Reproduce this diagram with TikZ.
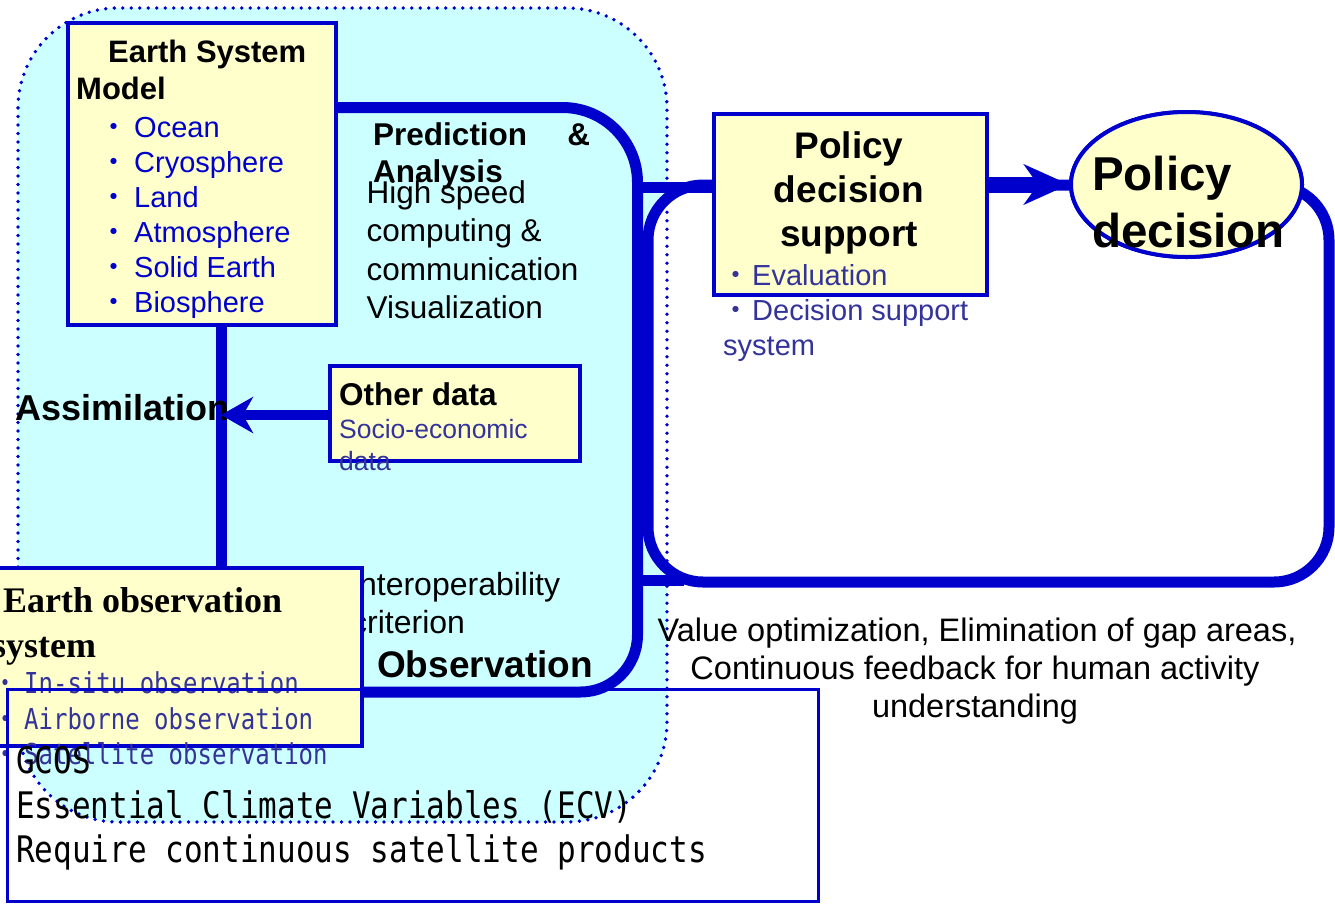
\documentclass[tikz,border=0pt]{standalone}
\usepackage{graphicx}
\usepackage{fontspec}
\setmainfont{Liberation Sans}
\newfontfamily\serifbf{Liberation Serif}
\newfontfamily\monofnt{DejaVu Sans Mono}
\newfontfamily\cjkfnt{Noto Sans CJK JP}
\usetikzlibrary{arrows.meta,shapes.geometric}
\definecolor{bl}{RGB}{0,0,204}
\definecolor{pb}{RGB}{51,51,153}
\definecolor{cy}{RGB}{204,255,255}
\definecolor{yl}{RGB}{255,255,204}
\newcommand{\myfs}[1]{\fontsize{#1}{#1}\selectfont}
\newcommand{\mybul}[1]{\makebox[#1][c]{\cjkfnt ・}}
\newcommand{\mymono}[2]{\scalebox{1}[#1]{#2}}
\begin{document}
\begin{tikzpicture}[x=1pt,y=-1pt,
  txt/.style={inner sep=0pt, anchor=base west},
  ctxt/.style={inner sep=0pt, anchor=base},
  box/.style={draw=bl, fill=yl, line width=3.5pt, inner sep=0pt, anchor=north west},
  heavy/.style={draw=bl, line width=11pt},
  region/.style={rounded corners=100pt},
  bigarrow/.style={draw=bl, line width=16pt, -{Stealth[length=45pt,width=40pt,inset=14pt]}},
  midarrow/.style={draw=bl, line width=10pt, -{Stealth[length=32pt,width=36pt,inset=10pt]}}]
\useasboundingbox (0,0) rectangle (1335,903);
\clip (0,0) rectangle (1335,903);

% cyan region
\path[fill=cy, region] (18,8) rectangle (667,822);
% feedback loop
\node[draw=bl, line width=11pt, fill=white, rounded corners=55pt, minimum width=681pt, minimum height=397pt, inner sep=0pt] (loop) at (988.5,383.5) {};
% dotted border
\draw[bl, line width=3.8pt, line cap=round, dash pattern=on 0pt off 8.5pt, region] (18,8) rectangle (667,822);

% texts in the region
\node[txt, font=\bfseries\myfs{31.5}] (pred) at (373,145) {\makebox[217pt][l]{Prediction\hfill\&}};
\node[txt, font=\bfseries\myfs{31.5}] (anal) at (373,182) {Analysis};
\node[txt, font=\myfs{31.5}] (hs1) at (366.5,203) {High speed};
\node[txt, font=\myfs{31.5}] (hs2) at (366.5,241.5) {computing \&};
\node[txt, font=\myfs{31.5}] (hs3) at (366.5,280) {communication};
\node[txt, font=\myfs{31.5}] (hs4) at (366.5,318.5) {Visualization};
\node[txt, font=\myfs{32}] (int1) at (350,595) {Interoperability};
\node[txt, font=\myfs{32}] (int2) at (351,633) {criterion};
\node[txt, font=\bfseries\myfs{37}] (obs) at (377,677) {Observation};

% boxes (declared first so connectors can use their names)
\node[box, minimum width=268pt, minimum height=302pt] (esm) at (66,21) {};
\node[box, minimum width=273pt, minimum height=181pt] (pds) at (712,112) {};
\node[box, minimum width=250pt, minimum height=95pt] (other) at (328,364) {};
\node[draw=bl, fill=yl, line width=4pt, ellipse, inner sep=0pt, minimum width=231pt, minimum height=145pt] (pdl) at (1186.5,184.5) {};

% connectors
\coordinate (py) at (0,107.5);
\coordinate (oy) at (0,692);
\coordinate (ax) at (221,0);
\coordinate (j1) at (637.5,187.5);
\coordinate (j2) at (637.5,580);
\coordinate (j2e) at (684,580);
\coordinate (eotop) at (221,566);
\coordinate (eoright) at (360,692);
\draw[heavy] (esm.east |- py) -- (562.5,107.5) arc[start angle=-90,end angle=0,radius=75] -- (637.5,635) arc[start angle=0,end angle=90,radius=57] -- (eoright);
\draw[heavy] (ax |- esm.south) -- (eotop);
\draw[heavy] (j1) -- (j1 -| pds.west);
\draw[heavy] (j2) -- (j2e);
\node[txt, font=\bfseries\myfs{36}] (assim) at (15,420) {Assimilation};
\draw[midarrow] (other.west |- 0,415) -- (ax |- 0,415);
\draw[bigarrow] (pds.east |- pdl.west) -- (pdl.west);

% redraw boxes on top of connectors
\node[box, minimum width=268pt, minimum height=302pt] at (66,21) {};
\node[box, minimum width=273pt, minimum height=181pt] at (712,112) {};
\node[box, minimum width=250pt, minimum height=95pt] at (328,364) {};
\node[draw=bl, fill=yl, line width=4pt, ellipse, inner sep=0pt, minimum width=231pt, minimum height=145pt] at (1186.5,184.5) {};
\node[box, minimum width=370pt, minimum height=178pt] (eo) at (-10,566) {};

% Earth System Model texts
\node[txt, font=\bfseries\myfs{31}] (esmt1) at (108,62) {Earth System};
\node[txt, font=\bfseries\myfs{31}] (esmt2) at (76,99) {Model};
\foreach \t [count=\i from 0] in {Ocean,Cryosphere,Land,Atmosphere,Solid Earth,Biosphere}
  \node[txt, text=bl, font=\myfs{29}] (esmi\i) at (93,{137+35*\i}) {\mybul{41pt}\t};

% Policy decision support texts
\node[ctxt, font=\bfseries\myfs{37}] (pdst1) at (849,158) {Policy};
\node[ctxt, font=\bfseries\myfs{37}] (pdst2) at (849,202) {decision};
\node[ctxt, font=\bfseries\myfs{37}] (pdst3) at (849,246) {support};
\node[txt, text=pb, font=\myfs{29}] (pdsi1) at (720,285) {\mybul{32pt}Evaluation};
\node[txt, text=pb, font=\myfs{29}] (pdsi2) at (720,320) {\mybul{32pt}Decision support};
\node[txt, text=pb, font=\myfs{29}] (pdsi3) at (723,355) {system};

% Policy decision texts
\node[txt, font=\bfseries\myfs{47.5}] (pdlt1) at (1092,190) {Policy};
\node[txt, font=\bfseries\myfs{47.5}] (pdlt2) at (1092,247) {decision};

% Other data texts
\node[txt, font=\bfseries\myfs{31.5}] (odt1) at (339,405) {Other data};
\node[txt, text=pb, font=\myfs{26.5}] (odt2) at (339,438) {Socio-economic};
\node[txt, text=pb, font=\myfs{26.5}] (odt3) at (339,470) {data};

% Earth observation system texts
\node[txt, font=\serifbf\bfseries\myfs{36}] (eot1) at (3,612) {Earth observation};
\node[txt, font=\serifbf\bfseries\myfs{36}] (eot2) at (-8,657) {system};
\node[txt, text=pb, font=\monofnt\myfs{24}] (eoi1) at (-14,693) {\mymono{1.2}{\mybul{38pt}In-situ observation}};
\node[txt, text=pb, font=\monofnt\myfs{24}] (eoi2) at (-14,729) {\mymono{1.2}{\mybul{38pt}Airborne observation}};
\node[txt, text=pb, font=\monofnt\myfs{24}] (eoi3) at (-14,764) {\mymono{1.2}{\mybul{38pt}Satellite observation}};

% bottom-right text
\node[ctxt, font=\myfs{32.5}] (val1) at (977,641) {Value optimization, Elimination of gap areas,};
\node[ctxt, font=\myfs{32.5}] (val2) at (975,679) {Continuous feedback for human activity};
\node[ctxt, font=\myfs{32.5}] (val3) at (975,717) {understanding};

% GCOS box
\node[draw=bl, line width=3pt, inner sep=0pt, anchor=north west, minimum width=811pt, minimum height=212pt] (gcos) at (6,688) {};
\node[txt, font=\monofnt\myfs{31}] (g1) at (16,773) {\mymono{1.18}{GCOS}};
\node[txt, font=\monofnt\myfs{31}] (g2) at (16,818) {\mymono{1.18}{Essential Climate Variables (ECV)}};
\node[txt, font=\monofnt\myfs{31}] (g3) at (16,862) {\mymono{1.18}{Require continuous satellite products}};
\end{tikzpicture}
\end{document}
